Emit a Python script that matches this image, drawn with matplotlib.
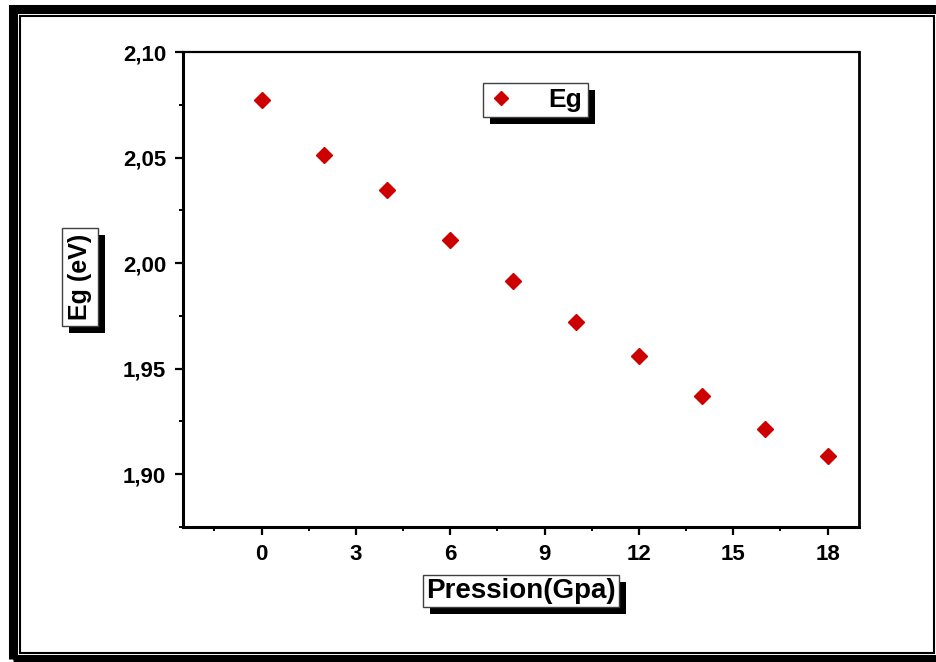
import matplotlib
matplotlib.use("Agg")
import matplotlib.pyplot as plt
from matplotlib.patches import Rectangle
from matplotlib.ticker import MultipleLocator, FuncFormatter

plt.rcParams['font.family'] = ['Liberation Sans', 'DejaVu Sans']
plt.rcParams['font.weight'] = 'bold'

# data
pression = [0, 2, 4, 6, 8, 10, 12, 14, 16, 18]
eg = [2.0773, 2.0513, 2.0348, 2.0111, 1.9913, 1.9723, 1.9558, 1.9369, 1.9213, 1.9085]

W, H = 937, 662
fig = plt.figure(figsize=(W / 100, H / 100), dpi=100)
ax = fig.add_axes([183 / W, 1 - 527 / H, (859 - 183) / W, (527 - 52) / H])

ax.plot(pression, eg, linestyle='none', marker='D', markersize=8,
        color='#cc0000', markeredgecolor='#cc0000', label='Eg')

ax.set_xlim(-2.5, 19)
ax.set_ylim(1.875, 2.10)
ax.xaxis.set_major_locator(MultipleLocator(3))
ax.xaxis.set_minor_locator(MultipleLocator(1.5))
ax.yaxis.set_major_locator(MultipleLocator(0.05))
ax.yaxis.set_minor_locator(MultipleLocator(0.025))
ax.yaxis.set_major_formatter(FuncFormatter(lambda v, p: f"{v:.2f}".replace('.', ',')))
ax.xaxis.set_major_formatter(FuncFormatter(lambda v, p: f"{v:.0f}"))

ax.tick_params(which='major', direction='out', length=6, width=1.6,
               labelsize=16, pad=6, top=False, right=False)
ax.tick_params(which='minor', direction='out', length=3, width=1.4,
               top=False, right=False)
for lab in ax.get_xticklabels() + ax.get_yticklabels():
    lab.set_fontweight('bold')
ax.spines['left'].set_linewidth(2.2)
ax.spines['bottom'].set_linewidth(2.2)
ax.spines['top'].set_linewidth(1.6)
ax.spines['right'].set_linewidth(2.0)

leg = ax.legend(loc='upper center', bbox_to_anchor=(0.521, 0.935), borderaxespad=0,
                fancybox=False, framealpha=1, edgecolor='#404040',
                handlelength=1.0, handletextpad=1.3, borderpad=0.2, markerscale=0.85,
                prop={'size': 19, 'weight': 'bold'})
leg.get_frame().set_linewidth(1.0)

box = dict(boxstyle='square,pad=0.12', facecolor='white', edgecolor='#404040', linewidth=1.0)
ybox = dict(boxstyle='square,pad=0.25', facecolor='white', edgecolor='#404040', linewidth=1.0)
xl = fig.text(521 / W, 1 - 591 / H, 'Pression(Gpa)', fontsize=20, fontweight='bold',
              ha='center', va='center', bbox=box, zorder=3)
yl = fig.text(80 / W, 1 - 277 / H, 'Eg (eV)', fontsize=18, fontweight='bold', rotation=90,
              ha='center', va='center', bbox=ybox, zorder=3)

# black drop shadows behind the boxes
fig.canvas.draw()
off = 7
for t in (xl, yl):
    bb = t.get_bbox_patch().get_window_extent()
    fig.patches.append(Rectangle((bb.x0 + off, bb.y0 - off), bb.width, bb.height,
                                 transform=None, facecolor='black', edgecolor='none', zorder=2.5))
bb = leg.get_frame().get_window_extent()
ax.add_patch(Rectangle((bb.x0 + off, bb.y0 - off), bb.width, bb.height,
                       transform=None, facecolor='black', edgecolor='none', zorder=4.9,
                       clip_on=False))

# page frame
fig.patches.append(Rectangle((13 / W, 1 - 658.5 / H), (945 - 13) / W, (658.5 - 8.5) / H,
                             transform=fig.transFigure, fill=False, edgecolor='black',
                             linewidth=6.5, zorder=1))
fig.patches.append(Rectangle((20 / W, 1 - 653 / H), (934 - 20) / W, (653 - 15.7) / H,
                             transform=fig.transFigure, fill=False, edgecolor='black',
                             linewidth=1.5, zorder=1))

fig.savefig('out.png', dpi=100)
